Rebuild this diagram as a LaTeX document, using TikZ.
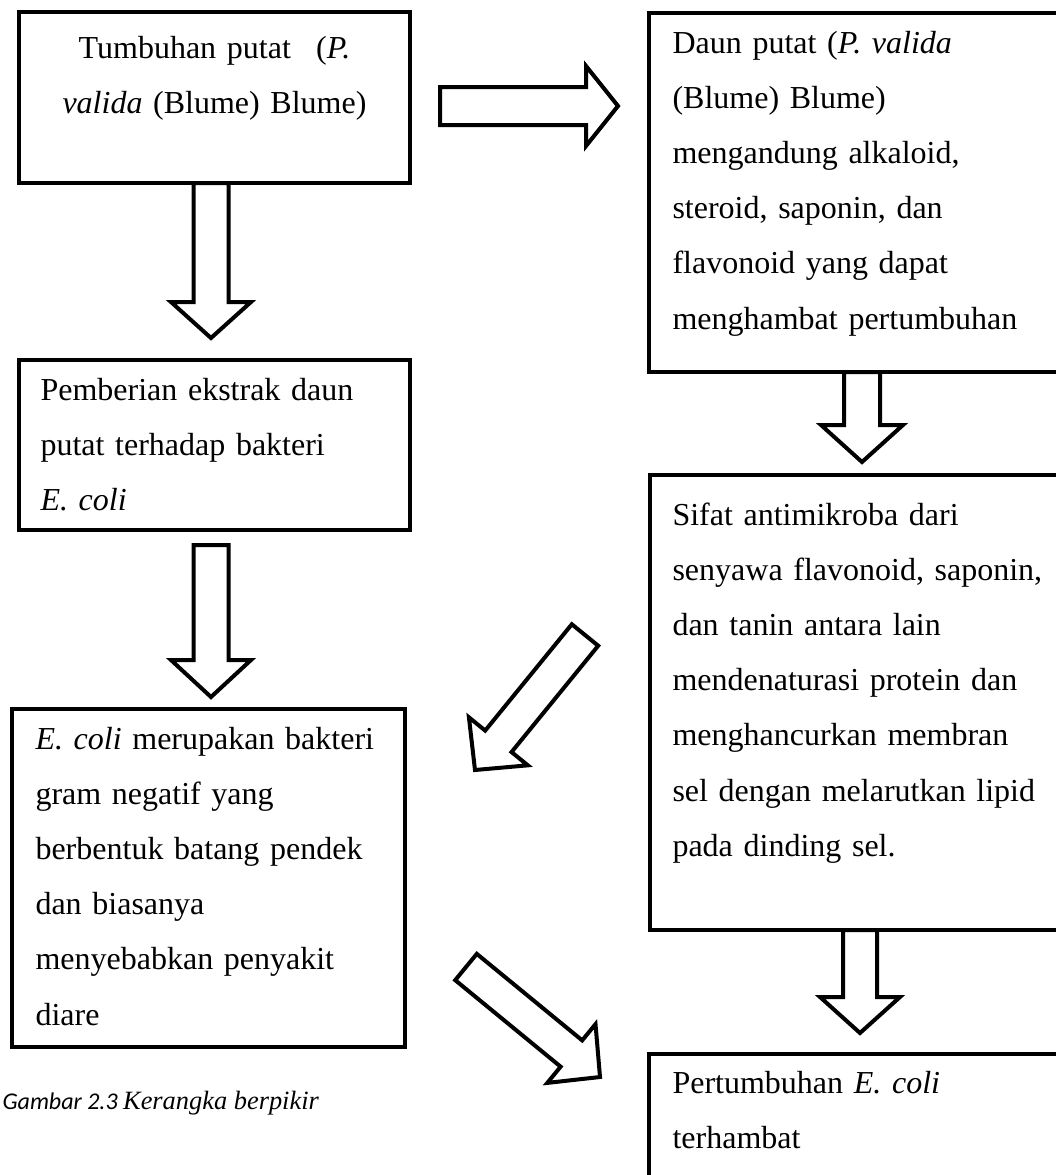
\documentclass[tikz,border=0pt]{standalone}
\usepackage{fontspec}
\setmainfont{Liberation Serif}
\newfontfamily\carlito{Carlito}
\usepackage{tikz}
\usetikzlibrary{calc}

\newcommand{\pxl}{0.375pt}
% block arrow: #1 tail, #2 tip, #3 half shaft, #4 half head, #5 head length
\newcommand{\fatarrow}[5]{%
\coordinate (#1-hb) at ($(#2)!#5*\pxl!(#1)$);
\draw[blockarrow] ($(#1)!#3*\pxl!90:(#2)$) -- ($(#1-hb)!#3*\pxl!90:(#2)$)
 -- ($(#1-hb)!#4*\pxl!90:(#2)$) -- (#2) -- ($(#1-hb)!#4*\pxl!-90:(#2)$)
 -- ($(#1-hb)!#3*\pxl!-90:(#2)$) -- ($(#1)!#3*\pxl!-90:(#2)$) -- cycle;}

\begin{document}
\begin{tikzpicture}[x=\pxl, y=-\pxl,
  box/.style={draw, line width=1.6pt, anchor=north west, inner sep=0pt, outer sep=0pt},
  txt/.style={inner sep=0pt, anchor=base west, text width=170pt, align=left,
    font=\fontsize{12}{20.7}\selectfont},
  blockarrow/.style={draw, line width=1.5pt, line join=miter}]
\clip (0,0) rectangle (1056,1175);
\node[box, minimum width=391*\pxl, minimum height=171*\pxl] (tumbuhan) at (19,12) {};
\node[box, minimum width=391*\pxl, minimum height=170*\pxl] (pemberian) at (19,360) {};
\node[box, minimum width=393*\pxl, minimum height=338*\pxl] (ecoli) at (12,709) {};
\node[box, minimum width=420*\pxl, minimum height=359*\pxl] (daun) at (649,13) {};
\node[box, minimum width=420*\pxl, minimum height=455*\pxl] (sifat) at (650,475) {};
\node[box, minimum width=420*\pxl, minimum height=140*\pxl] (hambat) at (649,1054) {};

\node[txt, anchor=base, text width=160pt, align=center] (tumbuhan-txt) at (214.5,58)
  {Tumbuhan putat\hspace{9.5pt}(\textit{P.}\\ \textit{valida} (Blume) Blume)};
\node[txt] (pemberian-txt) at (40,400)
  {Pemberian ekstrak daun\\ putat terhadap bakteri\\ \textit{E. coli}};
\node[txt] (ecoli-txt) at (35,749)
  {\textit{E. coli} merupakan bakteri\\ gram negatif yang\\ berbentuk batang pendek\\
   dan biasanya\\ menyebabkan penyakit\\ diare};
\node[txt] (daun-txt) at (672,53)
  {Daun putat (\textit{P. valida}\\ (Blume) Blume)\\ mengandung alkaloid,\\
   steroid, saponin, dan\\ flavonoid yang dapat\\ menghambat pertumbuhan};
\node[txt] (sifat-txt) at (672,525)
  {Sifat antimikroba dari\\ senyawa flavonoid, saponin,\\ dan tanin antara lain\\
   mendenaturasi protein dan\\ menghancurkan membran\\ sel dengan melarutkan lipid\\
   pada dinding sel.};
\node[txt] (hambat-txt) at (672,1093) {Pertumbuhan \textit{E. coli}\\ terhambat};
\node[inner sep=0pt, anchor=base west] (caption) at (2,1109)
  {{\carlito\itshape\fontsize{9}{11}\selectfont Gambar 2.3 }{\itshape\fontsize{9.9}{11}\selectfont Kerangka berpikir}};

\coordinate (tumbuhan-out) at (440,106);  \coordinate (daun-in) at (618,106);
\coordinate (tumbuhan-down) at (211,183); \coordinate (pemberian-in) at (211,338);
\coordinate (pemberian-out) at (211,545); \coordinate (ecoli-in) at (211,697);
\coordinate (daun-out) at (862,372);      \coordinate (sifat-in) at (862,462);
\coordinate (sifat-left) at (585,635);    \coordinate (ecoli-right) at (475,770);
\coordinate (ecoli-out) at (466,967);     \coordinate (hambat-left) at (600,1077);
\coordinate (sifat-out) at (860,930);     \coordinate (hambat-in) at (860,1033);

\fatarrow{tumbuhan-out}{daun-in}{19}{40}{32}
\fatarrow{tumbuhan-down}{pemberian-in}{17.5}{40}{36}
\fatarrow{pemberian-out}{ecoli-in}{17.5}{40}{37}
\fatarrow{daun-out}{sifat-in}{18}{41}{37}
\fatarrow{sifat-left}{ecoli-right}{17}{38}{37}
\fatarrow{ecoli-out}{hambat-left}{17}{38}{37}
\fatarrow{sifat-out}{hambat-in}{17}{40}{36}
\end{tikzpicture}
\end{document}
